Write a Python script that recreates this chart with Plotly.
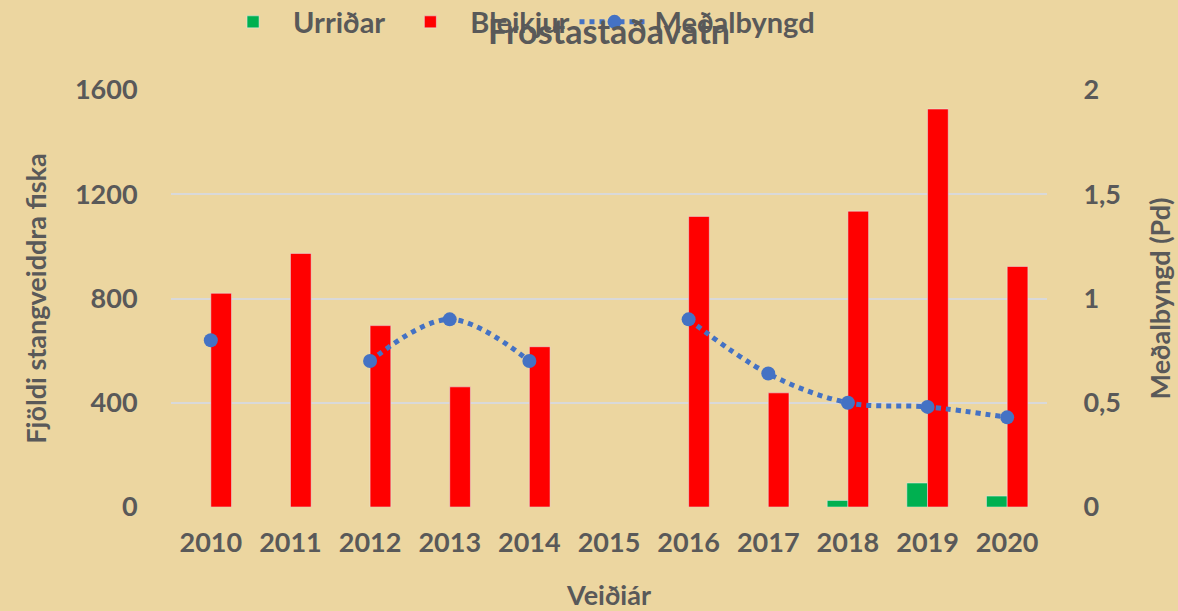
import plotly.graph_objects as go

years = ["2010", "2011", "2012", "2013", "2014", "2015", "2016", "2017", "2018", "2019", "2020"]
urridar = [None, None, None, None, None, None, None, None, 25, 92, 42]
bleikjur = [820, 973, 696, 461, 615, None, 1115, 438, 1135, 1527, 923]
medalthyngd = [0.80, None, 0.70, 0.90, 0.70, None, 0.90, 0.64, 0.50, 0.48, 0.43]

FONT = "Lato"
GREY = "#595959"
BG = "#ECD6A0"

fig = go.Figure()
fig.add_trace(go.Bar(x=years, y=urridar, name="Urriðar", marker_color="#00B050"))
fig.add_trace(go.Bar(x=years, y=bleikjur, name="Bleikjur", marker_color="#FF0000"))
fig.add_trace(go.Scatter(
    x=years, y=medalthyngd, name="Meðalbyngd", yaxis="y2",
    mode="lines+markers", connectgaps=False,
    line=dict(color="#4472C4", width=5, dash="dot", shape="spline"),
    marker=dict(color="#4472C4", size=14),
))

tickfont = dict(family=FONT, size=27, color=GREY, weight="bold")
titlefont = dict(family=FONT, size=27, color=GREY, weight="bold")

fig.update_layout(
    width=1178, height=611,
    margin=dict(l=171, r=131, t=90, b=104, autoexpand=False),
    paper_bgcolor=BG, plot_bgcolor="rgba(0,0,0,0)",
    barmode="group", bargap=0.48, bargroupgap=0,
    title=dict(text="Frostastaðavatn", x=0.517, xanchor="center",
               yref="container", y=1 - 32 / 611, yanchor="middle",
               font=dict(family=FONT, size=34, color=GREY, weight="bold")),
    legend=dict(orientation="h", x=0.048, xanchor="left",
                yref="container", y=1 - 22 / 611, yanchor="middle",
                font=dict(family=FONT, size=29, color=GREY, weight="bold"),
                bgcolor="rgba(0,0,0,0)", itemwidth=70),
    xaxis=dict(type="category", range=[-0.5, 10.5], tickfont=tickfont,
               showgrid=False, zeroline=False, showline=False, automargin=False,
               ticks="outside", ticklen=12, tickcolor="rgba(0,0,0,0)",
               title=dict(text="Veiðiár", font=titlefont, standoff=31)),
    yaxis=dict(range=[0, 1600], tickvals=[0, 400, 800, 1200, 1600], tickfont=tickfont,
               showgrid=True, gridcolor="#D9D9D9", gridwidth=2, zeroline=False,
               automargin=False,
               ticks="outside", ticklen=27, tickcolor="rgba(0,0,0,0)",
               title=dict(text="Fjöldi stangveiddra fiska", font=titlefont, standoff=20)),
    yaxis2=dict(range=[0, 2], tickvals=[0, 0.5, 1, 1.5, 2],
                ticktext=["0", "0,5", "1", "1,5", "2"], tickfont=tickfont,
                overlaying="y", side="right", showgrid=False, zeroline=False,
                automargin=False,
                ticks="outside", ticklen=30, tickcolor="rgba(0,0,0,0)",
                title=dict(text="Meðalbyngd (Pd)", font=titlefont, standoff=31)),
)

fig.write_html(
    "out.html",
    config={"displayModeBar": False},
    post_script="document.body.style.margin='0';document.body.style.background='#ECD6A0';",
)
